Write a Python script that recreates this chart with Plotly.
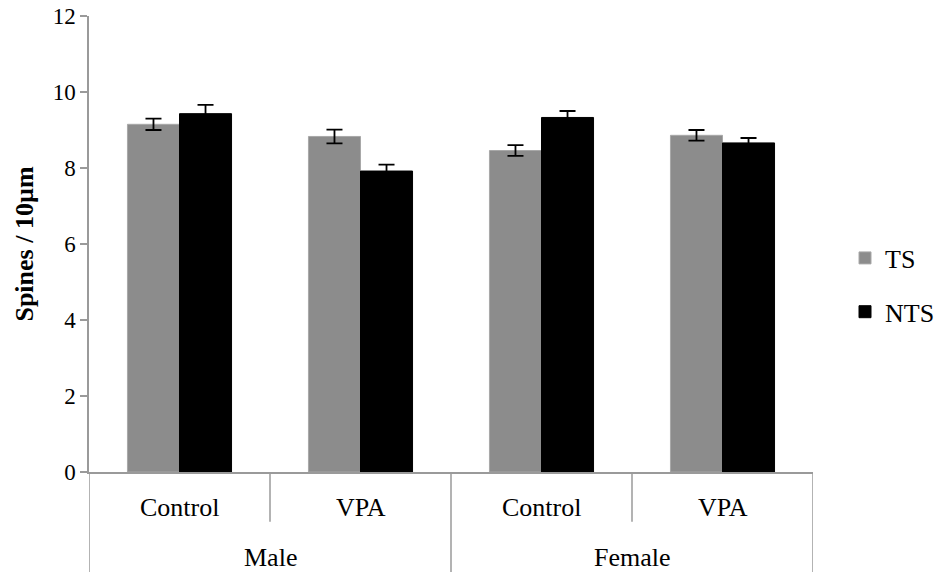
import plotly.graph_objects as go

# Data
groups = ["Male", "Male", "Female", "Female"]
treatments = ["Control", "VPA", "Control", "VPA"]
categories = [f"{g} {t}" for g, t in zip(groups, treatments)]
ts_values = [9.15, 8.83, 8.46, 8.86]
ts_errors = [0.15, 0.18, 0.14, 0.14]
nts_values = [9.43, 7.92, 9.33, 8.66]
nts_errors = [0.23, 0.17, 0.17, 0.13]
y_ticks = [0, 2, 4, 6, 8, 10, 12]

FONT = "Liberation Serif, Times New Roman, serif"
AXIS_COLOR = "#9a9a9a"

fig = go.Figure()
fig.add_trace(go.Bar(
    name="TS", x=categories, y=ts_values, legendgroup="ts",
    marker=dict(color="#8c8c8c", line=dict(color="#a8a8a8", width=1)),
    error_y=dict(type="data", array=ts_errors, color="black", thickness=1.8, width=8),
))
fig.add_trace(go.Bar(
    name="NTS", x=categories, y=nts_values, legendgroup="nts",
    marker=dict(color="#000000", line=dict(color="#000000", width=1)),
    error_y=dict(type="data", array=nts_errors, color="black", thickness=1.8, width=8),
))

shapes = []
n = len(categories)
for i in range(n + 1):
    xpos = i - 0.5
    outer = (i == 0 or i == n or groups[i - 1] != groups[i])
    shapes.append(dict(
        type="line", xref="x", yref="paper", x0=xpos, x1=xpos,
        y0=0, y1=-0.23 if outer else -0.109,
        line=dict(color=AXIS_COLOR, width=1.5),
    ))

annotations = []
for c, t in zip(categories, treatments):
    annotations.append(dict(
        x=c, xref="x", y=0, yref="paper", yanchor="middle", yshift=-35, text=t,
        showarrow=False, font=dict(family=FONT, size=26, color="black"),
    ))
seen = []
for g in groups:
    if g in seen:
        continue
    seen.append(g)
    idx = [i for i, gg in enumerate(groups) if gg == g]
    center = (idx[0] + idx[-1]) / 2
    annotations.append(dict(
        x=center, xref="x", y=0, yref="paper", yanchor="middle", yshift=-85, text=g,
        showarrow=False, font=dict(family=FONT, size=26, color="black"),
    ))

fig.update_layout(
    width=938, height=572,
    margin=dict(l=89, r=125, t=16, b=100),
    paper_bgcolor="white", plot_bgcolor="white",
    barmode="group", bargap=0.425, bargroupgap=0,
    font=dict(family=FONT, size=22, color="black"),
    showlegend=True,
    legend=dict(
        x=845 / 938, xanchor="left", xref="container",
        y=(572 - 285) / 572, yanchor="middle", yref="container",
        font=dict(family=FONT, size=26, color="black"),
        tracegroupgap=17, itemwidth=30, bgcolor="rgba(0,0,0,0)",
    ),
    shapes=shapes,
    annotations=annotations,
    xaxis=dict(
        showticklabels=False, ticks="", showline=True, linecolor=AXIS_COLOR,
        linewidth=1.5, showgrid=False, zeroline=False, automargin=False,
        range=[-0.5, n - 0.5],
    ),
    yaxis=dict(
        range=[0, 12], tickvals=y_ticks, ticks="outside", ticklen=7,
        tickcolor=AXIS_COLOR, tickwidth=1.5, showline=True,
        linecolor=AXIS_COLOR, linewidth=1.5, showgrid=False, zeroline=False,
        automargin=False,
        tickfont=dict(family=FONT, size=23, color="black"),
        title=dict(text="<b>Spines / 10µm</b>", standoff=12,
                   font=dict(family=FONT, size=26, color="black")),
    ),
)

fig.write_html("out.html", config={"displayModeBar": False},
               post_script="document.body.style.margin='0';")
